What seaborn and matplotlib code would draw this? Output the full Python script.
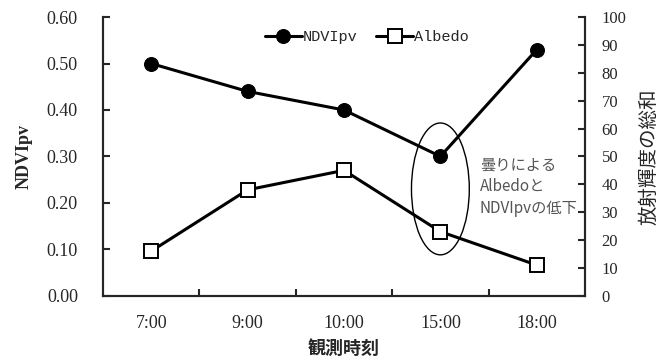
import numpy as np
import pandas as pd
import seaborn as sns
import matplotlib.pyplot as plt
from matplotlib.patches import Ellipse

# data
times = ['7:00', '9:00', '10:00', '15:00', '18:00']
ndvi = [0.50, 0.44, 0.40, 0.30, 0.53]
albedo = [16, 38, 45, 23, 11]

ndvi_ticks = [0.0, 0.1, 0.2, 0.3, 0.4, 0.5, 0.6]
rad_ticks = [0, 10, 20, 30, 40, 50, 60, 70, 80, 90, 100]

sns.set_style('ticks')
plt.rcParams['font.family'] = ['Liberation Serif', 'Noto Sans CJK JP']

df = pd.DataFrame({'pos': range(len(times)), 'time': times,
                   'NDVIpv': ndvi, 'Albedo': albedo})

fig = plt.figure(figsize=(6.71, 3.59), dpi=100)
ax = fig.add_axes([0.1535, 0.1763, 0.7183, 0.776])
ax2 = ax.twinx()

sns.lineplot(data=df, x='pos', y='NDVIpv', ax=ax, color='black', lw=2.2,
             marker='o', markersize=10, markeredgecolor='black',
             label='NDVIpv', legend=False)
sns.lineplot(data=df, x='pos', y='Albedo', ax=ax2, color='black', lw=2.2,
             marker='s', markersize=9.5, markerfacecolor='white',
             markeredgecolor='black', markeredgewidth=1.4,
             label='Albedo', legend=False)

# axes
ax.set_xlim(-0.5, len(times) - 0.5)
ax.set_xticks(range(len(times)))
ax.set_xticklabels(times)
ax.set_xticks([i + 0.5 for i in range(len(times) - 1)], minor=True)
ax.tick_params(axis='x', which='major', length=0, pad=14, labelsize=13)
ax.tick_params(axis='x', which='minor', direction='in', length=5, width=1.5)

ax.set_ylim(0, 0.6)
ax.set_yticks(ndvi_ticks)
ax.set_yticklabels([f'{t:.2f}' for t in ndvi_ticks])
ax.tick_params(axis='y', direction='in', length=5, width=1.5, pad=18, labelsize=13)

ax2.set_ylim(0, 100)
ax2.set_yticks(rad_ticks)
ax2.tick_params(axis='y', direction='in', length=5, width=1.5, pad=12, labelsize=12)

for a in (ax, ax2):
    a.spines['top'].set_visible(False)
    for s in ('left', 'right', 'bottom'):
        a.spines[s].set_linewidth(1.5)

ax.set_xlabel('観測時刻', fontsize=13, fontweight='bold', labelpad=6)
ax.set_ylabel('NDVIpv', fontsize=13, fontweight='bold')
ax.yaxis.set_label_coords(-0.145, 0.5)
ax2.set_ylabel('放射輝度の総和', fontsize=14, labelpad=10)

# cloud note
ax.add_patch(Ellipse((3, 0.23), 0.6, 0.284, fill=False, lw=1, ec='black'))
ax.text(3.41, 0.30, '曇りによる\nAlbedoと\nNDVIpvの低下', ha='left', va='top',
        fontsize=11, color='#555555', family=['Noto Sans CJK JP'],
        linespacing=1.35)

h1, l1 = ax.get_legend_handles_labels()
h2, l2 = ax2.get_legend_handles_labels()
ax2.legend(h1 + h2, l1 + l2, loc='center', bbox_to_anchor=(0.548, 0.929),
           ncol=2, frameon=False, handlelength=2.4, handletextpad=0.1,
           columnspacing=1.2, prop={'family': 'Liberation Mono', 'size': 11})

fig.savefig('out.png', dpi=100)
